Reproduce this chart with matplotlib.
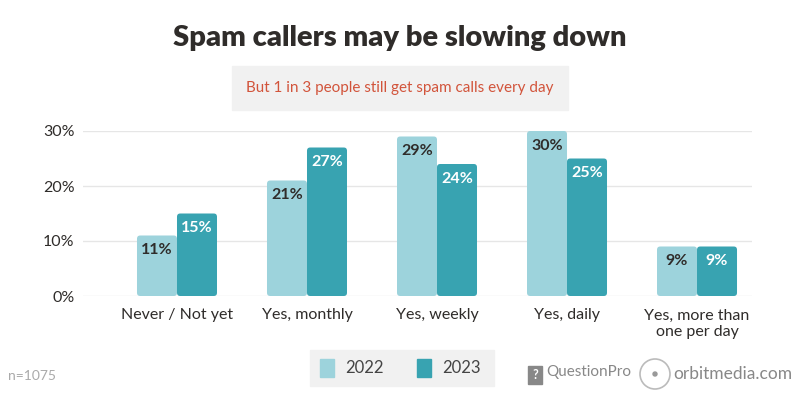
import matplotlib
matplotlib.use('Agg')
import matplotlib.pyplot as plt
from matplotlib.patches import FancyBboxPatch, Rectangle, Ellipse
import numpy as np

# ============================================
# DATA
# ============================================
categories = ['Never / Not yet', 'Yes, monthly', 'Yes, weekly', 'Yes, daily',
              'Yes, more than\none per day']
values_2022 = [11, 21, 29, 30, 9]
values_2023 = [15, 27, 24, 25, 9]
series_names = ['2022', '2023']
y_ticks = [0, 10, 20, 30]

title = 'Spam callers may be slowing down'
subtitle = 'But 1 in 3 people still get spam calls every day'
sample_note = 'n=1075'

# ============================================
# STYLE
# ============================================
LIGHT = '#9dd3dc'
DARK = '#38a3b1'
TEXT = '#2f2c2a'
GRID = '#e6e6e6'
BOX = '#f1f1f1'
RED = '#d2543b'

plt.rcParams['font.family'] = ['Lato', 'DejaVu Sans']

fig = plt.figure(figsize=(8, 4), dpi=100)
ax = fig.add_axes([83 / 800, 1 - 296 / 400, (752 - 83) / 800, (296 - 131) / 400])

x = np.arange(len(categories))
width = 0.3077

bars1 = ax.bar(x - width / 2, values_2022, width, color=LIGHT, zorder=3)
bars2 = ax.bar(x + width / 2, values_2023, width, color=DARK, zorder=3)

ax.set_xlim(-0.723, 4.423)
ax.set_ylim(0, 30)


def round_tops(bars, color):
    # swap plain rectangles for ones with softly rounded corners
    r = 0.025
    aspect = (30 / 165) / ((4.423 + 0.723) / 669)
    for b in bars:
        b.set_visible(False)
        p = FancyBboxPatch((b.get_x(), b.get_y()), b.get_width(), b.get_height(),
                           boxstyle=f'round,pad=0,rounding_size={r}',
                           mutation_aspect=aspect, facecolor=color,
                           edgecolor='none', zorder=3)
        ax.add_patch(p)


round_tops(bars1, LIGHT)
round_tops(bars2, DARK)

# value labels inside the bar tops
for b, v in zip(bars1, values_2022):
    ax.text(b.get_x() + b.get_width() / 2, v - 1.4, f'{v}%', ha='center', va='top',
            fontsize=11.5, fontweight='bold', color=TEXT, zorder=4)
for b, v in zip(bars2, values_2023):
    ax.text(b.get_x() + b.get_width() / 2, v - 1.4, f'{v}%', ha='center', va='top',
            fontsize=11.5, fontweight='bold', color='white', zorder=4)

ax.set_yticks(y_ticks)
ax.set_yticklabels([f'{t}%' for t in y_ticks], fontsize=11.5, color=TEXT)
ax.set_xticks(x)
ax.set_xticklabels(categories, fontsize=11.5, color=TEXT, va='top', linespacing=1.25)
ax.tick_params(axis='both', length=0)
ax.tick_params(axis='y', pad=6)
ax.tick_params(axis='x', pad=9)
ax.grid(axis='y', color=GRID, linewidth=1, zorder=0)
for s in ax.spines.values():
    s.set_visible(False)
ax.set_axisbelow(True)

# ============================================
# TITLES
# ============================================
fig.text(0.5, 1 - 38 / 400, title, ha='center', va='center', fontsize=21,
         fontweight='heavy', color=TEXT)
fig.patches.append(Rectangle((232 / 800, 1 - 110 / 400), 336 / 800, 44 / 400,
                             transform=fig.transFigure, color=BOX, zorder=0))
fig.text(0.5, 1 - 88 / 400, subtitle, ha='center', va='center', fontsize=11,
         color=RED)

# ============================================
# LEGEND / FOOTER
# ============================================
fig.patches.append(Rectangle((310 / 800, 1 - 386 / 400), 184 / 800, 36 / 400,
                             transform=fig.transFigure, color=BOX, zorder=0))
fig.patches.append(Rectangle((320 / 800, 1 - 377 / 400), 14 / 800, 18 / 400,
                             transform=fig.transFigure, color=LIGHT))
fig.patches.append(Rectangle((417 / 800, 1 - 377 / 400), 14 / 800, 18 / 400,
                             transform=fig.transFigure, color=DARK))
fig.text(345 / 800, 1 - 368 / 400, series_names[0], ha='left', va='center',
         fontsize=12, color='#444444')
fig.text(442 / 800, 1 - 368 / 400, series_names[1], ha='left', va='center',
         fontsize=12, color='#444444')

fig.text(8 / 800, 1 - 376 / 400, sample_note, ha='left', va='center',
         fontsize=10, color='#aaaaaa')

fig.patches.append(Rectangle((528 / 800, 1 - 384 / 400), 14 / 800, 18 / 400,
                             transform=fig.transFigure, color='#888888'))
fig.text(535 / 800, 1 - 375 / 400, '?', ha='center', va='center', fontsize=9,
         fontweight='bold', color='white')
fig.text(546 / 800, 1 - 372 / 400, 'QuestionPro', ha='left', va='center',
         fontsize=11, color='#888888')
fig.patches.append(Ellipse((655 / 800, 1 - 374 / 400), 30 / 800, 30 / 400,
                           transform=fig.transFigure, fill=False,
                           edgecolor='#bbbbbb', linewidth=1.2))
fig.patches.append(Ellipse((655 / 800, 1 - 374 / 400), 4 / 800, 4 / 400,
                           transform=fig.transFigure, color='#999999'))
fig.text(673 / 800, 1 - 374 / 400, 'orbitmedia.com', ha='left', va='center',
         fontsize=12.5, color='#888888')

fig.savefig('out.png', dpi=100)
